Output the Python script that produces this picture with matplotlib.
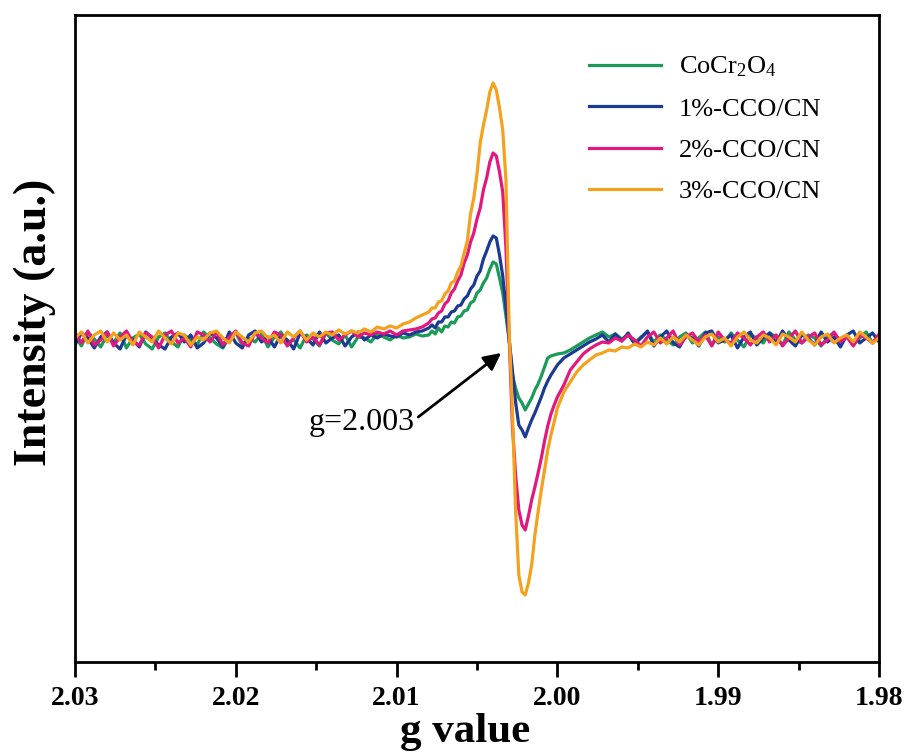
import numpy as np
import matplotlib.pyplot as plt
from matplotlib.ticker import MultipleLocator

plt.rcParams['font.family'] = ['Liberation Serif', 'DejaVu Serif']
plt.rcParams['mathtext.fontset'] = 'custom'
plt.rcParams['mathtext.rm'] = 'Liberation Serif'

# g ranges of the three stretches of each spectrum (left baseline, signal, right baseline)
g_left_range = (2.0300, 2.0084)
g_mid_range = (2.0080, 2.0000)
g_right_range = (1.9996, 1.9800)

labels = ['CoCr$\\mathregular{_2}$O$\\mathregular{_4}$', '1%-CCO/CN', '2%-CCO/CN', '3%-CCO/CN']
colours = ['#1A9B58', '#1B3A94', '#E2187E', '#F4A11C']

# intensity (arbitrary units)
green_left = [4, -6, 8, 1, -7, 5, -3, 7, -8, 2,
              6, -4, -9, 3, 7, -2, -7, 5, 0, -5,
              8, 2, -4, -8, 3, 7, -5, 2, -2, 6,
              -7, 3, 8, -3, 0, -8, 5, 1, -6, 7,
              0, -4, 5, -7, 3, 2, -2, 6, 3, 0,
              5, 2, 3, 6, 4]
green_mid = [5, 9, 6, 12, 8, 14, 13, 18, 17, 23,
             24, 29, 30, 37, 39, 47, 50, 57, 62, 71,
             78, 76, 62, 47, 24, 0, -35, -48, -58, -63,
             -70, -64, -58, -50, -44, -36, -27, -18, -16, -15,
             -14]
green_right = [-13, -10, -6, -2, 2, 5, 8, 3, 6, 1,
               5, -3, 3, 8, -2, 5, 0, -5, 3, 7,
               -3, 2, 8, -5, 3, -2, 7, 0, -7, 5,
               2, -3, 7, 3, -5, 8, 0, -3, 5, 2,
               -6, 3, 7, -2, 5, -5, 2, 8, -3, 3]

blue_left = [-5, 7, 2, -8, 3, 8, -3, -9, 5, 0,
             -7, 8, 2, -5, -9, 3, 7, -2, 5, -8,
             -3, 7, 2, -7, 8, -3, -8, 5, 9, -2,
             3, -7, 5, 0, -9, 7, 2, -5, 8, -3,
             2, 5, -6, 3, 8, 0, 5, 2, 6, 4,
             3, 7, 5, 8, 9]
blue_mid = [12, 15, 12, 18, 18, 23, 23, 28, 29, 34,
            35, 41, 44, 51, 55, 64, 69, 81, 89, 98,
            104, 102, 85, 64, 33, 0, -30, -62, -85, -90,
            -97, -88, -80, -73, -65, -57, -48, -41, -35, -30,
            -25]
blue_right = [-18, -14, -10, -6, -2, 1, 5, -2, 6, -1,
              7, -4, 2, 9, -6, 3, 9, -3, -7, 5,
              2, -6, 7, 9, -3, 0, 5, -8, 3, 8,
              -5, 2, 7, -3, 9, 0, -6, 5, 2, -5,
              8, -2, 3, -7, 5, 9, -3, 2, 7, -2]

pink_left = [7, -3, 9, -5, 0, 8, -6, 3, 9, -2,
             -5, 7, 3, -8, 5, 9, -3, 2, -7, 8,
             5, -2, 8, -5, 3, 9, -3, -6, 7, 2,
             -3, 8, 5, -6, 2, 9, -2, 3, -5, 7,
             8, 0, 5, 9, 3, 7, 5, 8, 6, 9,
             5, 9, 10, 11, 13]
pink_mid = [17, 21, 22, 27, 29, 36, 39, 47, 51, 59,
            65, 77, 85, 98, 107, 121, 132, 150, 162, 178,
            187, 184, 168, 148, 92, 4, -85, -135, -170, -185,
            -190, -176, -160, -147, -133, -118, -101, -86, -74, -65,
            -57]
pink_right = [-45, -30, -22, -14, -9, -5, -2, -3, 2, -1,
              5, 0, -6, 3, 8, -3, 2, 9, -5, 3,
              7, -2, 5, -6, 8, 0, -3, 7, 2, -5,
              3, 8, -2, 5, -6, 2, 9, -3, 3, 7,
              -5, 0, 8, -2, 3, -6, 5, 2, -3, 6]

orange_left = [2, 8, -3, 5, 9, -2, 7, 0, 5, -5,
               8, 3, -2, 9, 2, -4, 7, 5, -5, 3,
               0, 7, 9, 2, -3, 8, 3, -2, 7, 9,
               2, 5, -3, 8, 3, 9, 0, 7, 3, 8,
               5, 10, 6, 9, 7, 11, 8, 13, 11, 14,
               12, 16, 18, 22, 25]
orange_mid = [28, 32, 32, 38, 39, 46, 49, 57, 59, 68,
              74, 87, 99, 126, 142, 166, 197, 215, 230, 248,
              257, 250, 232, 210, 160, 10, -70, -170, -235, -252,
              -255, -243, -225, -195, -172, -150, -130, -110, -95, -82,
              -68]
orange_right = [-52, -42, -32, -25, -20, -15, -13, -10, -11, -7,
                -8, -4, -7, -2, -5, 2, -4, 3, -2, 5,
                0, -5, 3, 6, -2, 2, -6, 3, 8, 0,
                -3, 5, 2, -5, 6, 3, -2, 8, 0, -5,
                3, 6, -3, 2, 5, -2, 8, 3, -3, 2]

series = [(green_left, green_mid, green_right),
          (blue_left, blue_mid, blue_right),
          (pink_left, pink_mid, pink_right),
          (orange_left, orange_mid, orange_right)]


def build_spectrum(parts):
    '''Joins the three stretches of one spectrum and gives each its g axis.'''
    gs, ys = [], []
    for part, (g0, g1) in zip(parts, [g_left_range, g_mid_range, g_right_range]):
        gs.append(np.linspace(g0, g1, len(part)))
        ys.append(np.array(part, dtype=float))
    return np.concatenate(gs), np.concatenate(ys)


fig = plt.figure(figsize=(9.09, 7.52), dpi=100)
ax = fig.add_axes([0.0825, 0.1197, 0.8845, 0.8604])

for parts, colour, label in zip(series, colours, labels):
    g, y = build_spectrum(parts)
    ax.plot(g, y, color=colour, lw=2.3, label=label)

ax.set_xlim(2.03, 1.98)
ax.set_ylim(-322, 325)

ax.xaxis.set_major_locator(MultipleLocator(0.01))
ax.xaxis.set_minor_locator(MultipleLocator(0.005))
ax.xaxis.set_major_formatter(plt.FormatStrFormatter('%.2f'))
ax.tick_params(axis='x', which='major', direction='out', length=11, width=2, pad=6,
               labelsize=20)
ax.tick_params(axis='x', which='minor', direction='out', length=6, width=2)
ax.set_yticks([])
for lbl in ax.get_xticklabels():
    lbl.set_fontweight('bold')
for spine in ax.spines.values():
    spine.set_linewidth(2)

ax.set_xlabel('g value', fontsize=31, fontweight='bold')
ax.xaxis.set_label_coords(0.485, -0.079)
ax.set_ylabel('Intensity (a.u.)', fontsize=33, fontweight='bold')
ax.yaxis.set_label_coords(-0.024, 0.525)

ax.annotate('g=2.003', xy=(2.0035, -13), xytext=(2.0089, -83), ha='right', va='center',
            fontsize=23, arrowprops=dict(arrowstyle='-|>', color='black', lw=2,
                                         mutation_scale=26, shrinkA=1, shrinkB=0,
                                         relpos=(1.0, 0.6)))

ax.legend(loc='upper right', bbox_to_anchor=(0.958, 0.975), frameon=False, fontsize=19,
          handlelength=2.7, handletextpad=0.7, labelspacing=0.67)

fig.savefig('out.png', dpi=100)
